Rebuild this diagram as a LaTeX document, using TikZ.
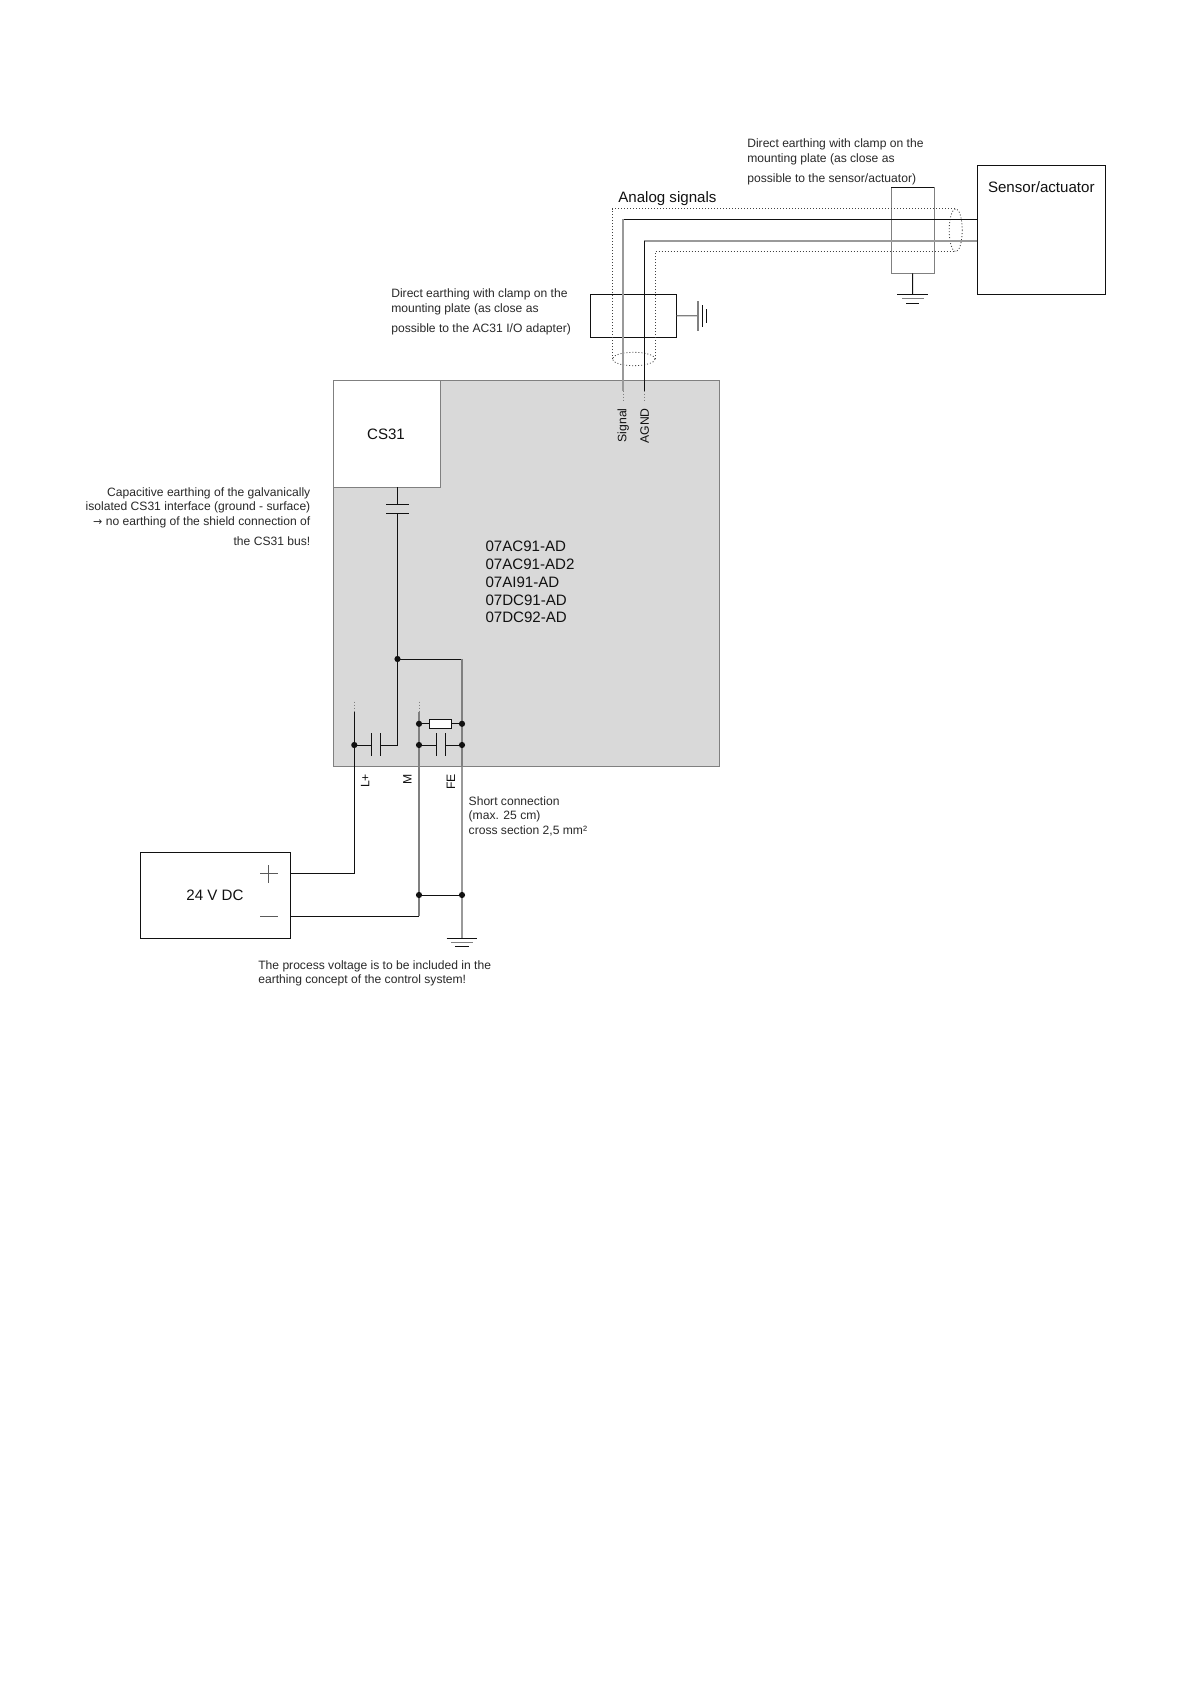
\documentclass[tikz,border=0pt]{standalone}
\usepackage{fontspec}
\setmainfont{Liberation Sans}
\newfontfamily\symfont{DejaVu Sans}
\definecolor{panel}{HTML}{D9D9D9}
\definecolor{edgegrey}{HTML}{808080}
\definecolor{wiregrey}{HTML}{9A9A9A}
\definecolor{ink}{HTML}{111111}
\tikzset{
  boxed/.style={draw=#1,line width=1pt,inner sep=0pt,outer sep=0pt,anchor=north west},
  boxed/.default=ink,
  wire/.style={draw=ink,line width=1pt},
  gwire/.style={draw=wiregrey,line width=1.7pt},
  dgwire/.style={draw=edgegrey,line width=1.3pt},
  thin dotted wire/.style={draw=edgegrey,line width=.8pt,dash pattern=on 1pt off 2pt},
  shield/.style={draw=ink!80,line width=.8pt,dash pattern=on 1pt off 2pt},
  small/.style={font=\fontsize{12.1}{14.7}\selectfont,inner sep=0pt,outer sep=0pt,text=ink!90,anchor=north west,align=left},
  big/.style={font=\fontsize{15.1}{15}\selectfont,inner sep=0pt,outer sep=0pt,text=ink},
  pinlabel/.style={font=\fontsize{12.2}{12}\selectfont,inner sep=0pt,outer sep=0pt,text=ink,rotate=90,anchor=base east},
  dot/.style={circle,fill=ink,inner sep=0pt,minimum size=6.2pt},
}
\begin{document}
\begin{tikzpicture}[x=1pt,y=-1pt]
\useasboundingbox (0,0) rectangle (1191,1684);
\fill[white] (0,0) rectangle (1191,1684);

% boxes
\node[boxed=edgegrey,fill=panel,minimum width=386pt,minimum height=386.5pt] (main) at (333.3,380.2) {};
\node[boxed=edgegrey,fill=white,minimum width=107.4pt,minimum height=107.1pt] (cs) at (333.3,380.2) {};
\node[big] (cstext) at (386,433.8) {CS31};
\node[boxed,minimum width=128.7pt,minimum height=128.6pt] (sensor) at (977,165.7) {};
\node[big,anchor=base] (sensortext) at (1041.3,192.3) {Sensor/actuator};
\node[boxed,minimum width=150.7pt,minimum height=85.7pt] (psu) at (140,852.3) {};
\node[big] (psutext) at (215,895) {24 V DC};
\node[boxed,minimum width=86pt,minimum height=43pt] (clampL) at (590.7,294.3) {};
\node[boxed=edgegrey,minimum width=43pt,minimum height=86pt] (clampR) at (891,187.3) {};
\draw[draw=ink,line width=1pt] (clampR.north west) -- (clampR.north east);

% shield
\coordinate (shLT) at (612.3,208.7);
\coordinate (shRT) at (955.7,208.7);
\coordinate (shLB) at (612.3,359);
\coordinate (shIT) at (655,251.7);
\coordinate (shRB) at (955.7,251.7);
\coordinate (shIB) at (655,359);
\draw[shield] (shLB) -- (shLT) -- (shRT);
\draw[shield] (shIB) -- (shIT) -- (shRB);
\draw[shield] (633.7,359) ellipse [x radius=21.35,y radius=6.7];
\draw[shield] (955.7,230.2) ellipse [x radius=6.5,y radius=21.5];

% signal wires
\coordinate (sigC) at (623,219.3);
\coordinate (sigE) at (623,390.7);
\coordinate (sigD) at (623,401.7);
\coordinate (agC) at (644.3,240.7);
\coordinate (agE) at (644.3,390.7);
\coordinate (agD) at (644.3,401.7);
\draw[wire] (sensor.west |- sigC) -- (sigC);
\draw[gwire] (sigC) -- (sigE);
\draw[gwire] (sensor.west |- agC) -- (agC);
\draw[wire] (agC) -- (agE);
\draw[thin dotted wire] (sigE) -- (sigD);
\draw[thin dotted wire] (agE) -- (agD);
\node[pinlabel] (siglabel) at (626.3,408.3) {Signal};
\node[pinlabel] (aglabel) at (648.8,408.3) {AGND};

% right clamp earth
\coordinate (gR) at (912.7,294.3);
\draw[wire] (clampR.south) -- (gR);
\draw[wire] (897.3,294.3) -- (928,294.3);
\draw[dgwire] (902,298.7) -- (923.7,298.7);
\draw[wire] (906,303) -- (919.3,303);

% left clamp earth
\coordinate (gL) at (698,315.7);
\draw[dgwire] (clampL.east) -- (gL);
\draw[dgwire] (698,301) -- (698,331);
\draw[wire] (702.3,305) -- (702.3,326.7);
\draw[wire] (706.7,309.3) -- (706.7,322.7);

% CS31 capacitor
\coordinate (capTa) at (397.5,504.7);
\coordinate (capTb) at (397.5,513.3);
\coordinate (jTop) at (397.5,659);
\draw[wire] (cs.south -| capTa) -- (capTa);
\draw[wire] (386,504.7) -- (408.7,504.7);
\draw[wire] (386,513.3) -- (408.7,513.3);
\draw[wire] (capTb) -- (jTop);

% internal network
\coordinate (feTop) at (462,659);
\coordinate (feBot) at (462,766.7);
\coordinate (feEnd) at (462,938);
\coordinate (lpDot) at (354.3,701.7);
\coordinate (lpTop) at (354.3,712.3);
\coordinate (lpCap) at (354.3,745);
\coordinate (lpCorner) at (354.3,873.3);
\coordinate (mDot) at (419,701.7);
\coordinate (mTop) at (419,712.3);
\coordinate (mRes) at (419,723.8);
\coordinate (mCap) at (419,745);
\coordinate (mJoin) at (419,895);
\coordinate (mCorner) at (419,916.3);
\coordinate (feRes) at (462,723.8);
\coordinate (feCap) at (462,745);
\coordinate (feJoin) at (462,895);
\draw[wire] (jTop) -- (feTop);
\draw[dgwire] (feTop) -- (feBot);
\draw[gwire] (feBot) -- (feEnd);
\draw[thin dotted wire] (lpDot) -- (lpTop);
\draw[thin dotted wire] (mDot) -- (mTop);
\draw[wire] (lpTop) -- (lpCorner) -- (psu.east |- lpCorner);
\draw[dgwire] (mTop) -- (mCorner);
\draw[wire] (mCorner) -- (psu.east |- mCorner);
\draw[wire] (mJoin) -- (feJoin);
% L+ capacitor
\draw[wire] (lpCap) -- (371.7,745);
\draw[wire] (371.7,733.3) -- (371.7,756);
\draw[wire] (380.7,733.3) -- (380.7,756);
\draw[wire] (380.7,745) -- (397.5,745) -- (jTop);
% M-FE capacitor
\draw[wire] (mCap) -- (436,745);
\draw[wire] (436,733.3) -- (436,756);
\draw[wire] (445,733.3) -- (445,756);
\draw[wire] (445,745) -- (feCap);
% resistor
\node[draw=ink,fill=white,line width=1pt,inner sep=0pt,minimum width=22pt,minimum height=9.3pt] (res) at (440.7,723.8) {};
\draw[wire] (mRes) -- (res.west);
\draw[wire] (res.east) -- (feRes);
\foreach \p/\n in {jTop/d1,feRes/d2,mRes/d3,mCap/d4,feCap/d5,lpCap/d6,mJoin/d7,feJoin/d8}
  \node[dot] (\n) at (\p) {};

% main earth
\draw[wire] (446.7,938) -- (477.3,938);
\draw[dgwire] (451,942.3) -- (473.3,942.3);
\draw[wire] (455,946.7) -- (469,946.7);

% psu signs
\draw[edgegrey!70!black,line width=1pt] (260,873.3) -- (277.7,873.3) (268.8,865) -- (268.8,882.7);
\draw[edgegrey!70!black,line width=1pt] (260,916.3) -- (277.7,916.3);

% pin labels
\node[pinlabel] (lplabel) at (369.3,774) {L+};
\node[pinlabel] (mlabel) at (411.7,774) {M};
\node[pinlabel] (felabel) at (455,774) {FE};

% texts
\node[big,anchor=base west] (analog) at (618.3,202.9) {Analog signals};
\node[small] (noteR) at (747.3,139) {Direct earthing with clamp on the\\mounting plate (as close as\\[5.3pt]possible to the sensor/actuator)};
\node[small] (noteL) at (391.3,288.9) {Direct earthing with clamp on the\\mounting plate (as close as\\[5.3pt]possible to the AC31 I/O adapter)};
\node[small,anchor=north east,align=right] (noteCS) at (310.3,487.4) {Capacitive earthing of the galvanically\\isolated CS31 interface (ground - surface)\\{\symfont\fontsize{11}{14.7}\selectfont →} no earthing of the shield connection of\\[5pt]the CS31 bus!};
\node[small] (noteShort) at (468.7,796.3) {Short connection\\(max. 25 cm)\\cross section 2,5 mm²};
\node[small] (notePV) at (258.3,960.3) {The process voltage is to be included in the\\earthing concept of the control system!};
\node[big,anchor=north west,align=left,font=\fontsize{15.1}{18}\selectfont] (models) at (485.5,541) {07AC91-AD\\07AC91-AD2\\07AI91-AD\\07DC91-AD\\[-1.3pt]07DC92-AD};
\end{tikzpicture}
\end{document}
